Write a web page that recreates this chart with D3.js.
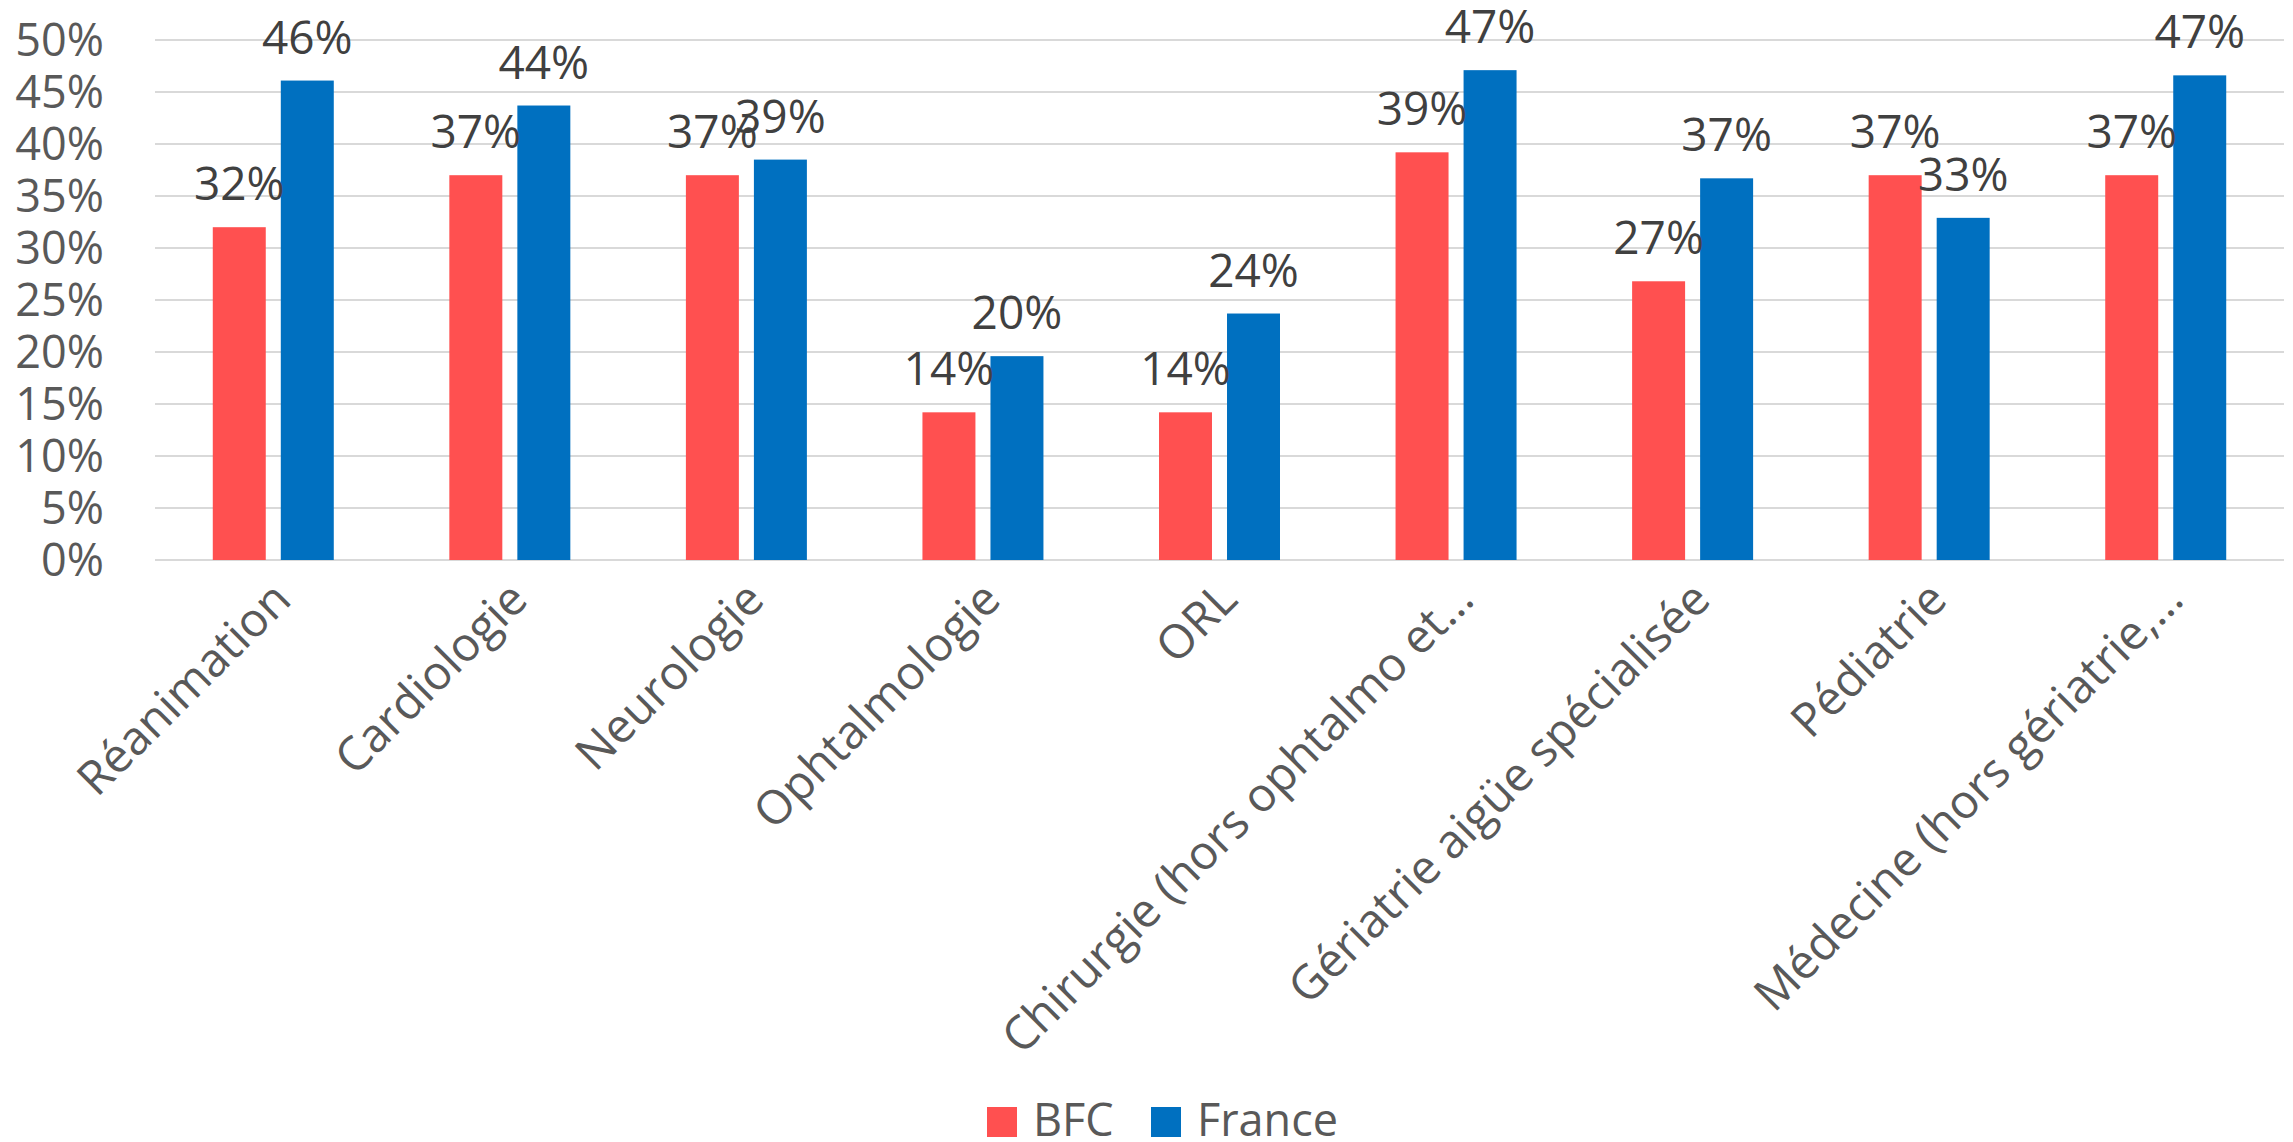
<!DOCTYPE html>
<html>
<head>
<meta charset="utf-8">
<script src="https://cdn.jsdelivr.net/npm/d3@7"></script>
<style>
  html, body { margin: 0; padding: 0; background: #fff; }
  svg { display: block; }
  text { font-family: "Open Sans", "Noto Sans", sans-serif; }
</style>
</head>
<body>
<svg id="chart" width="2293" height="1142"></svg>
<script>
const categories = ["Réanimation", "Cardiologie", "Neurologie", "Ophtalmologie", "ORL",
  "Chirurgie (hors ophtalmo et…", "Gériatrie aigüe spécialisée", "Pédiatrie", "Médecine (hors gériatrie,…"];
const seriesNames = ["BFC", "France"];
const bfcValues = [0.32, 0.37, 0.37, 0.142, 0.142, 0.392, 0.268, 0.37, 0.37];
const franceValues = [0.461, 0.437, 0.385, 0.196, 0.237, 0.471, 0.367, 0.329, 0.466];
const seriesColors = ["#FF5050", "#0070C0"];
const yTicks = [0, 0.05, 0.10, 0.15, 0.20, 0.25, 0.30, 0.35, 0.40, 0.45, 0.50];

const svg = d3.select("#chart");
const plotLeft = 155, plotRight = 2284, plotTop = 40, plotBottom = 560;

const x0 = d3.scaleBand().domain(categories).range([plotLeft, plotRight]).paddingInner(0.4885).paddingOuter(0.4885 / 2);
const x1 = d3.scaleBand().domain(seriesNames).range([0, x0.bandwidth()]).paddingInner(0.221).paddingOuter(0);
const y = d3.scaleLinear().domain([0, 0.5]).range([plotBottom, plotTop]);
const color = d3.scaleOrdinal().domain(seriesNames).range(seriesColors);
const fmt = d3.format(".0%");

// gridlines
svg.append("g").selectAll("line").data(yTicks).join("line")
  .attr("x1", plotLeft).attr("x2", plotRight)
  .attr("y1", d => y(d)).attr("y2", d => y(d))
  .attr("stroke", "#d9d9d9").attr("stroke-width", 2);

// y axis labels
const yAxis = d3.axisLeft(y).tickValues(yTicks).tickFormat(fmt).tickSize(0).tickPadding(0);
const yg = svg.append("g").attr("transform", `translate(104,0)`).call(yAxis);
yg.select(".domain").remove();
yg.selectAll("text").attr("font-size", 45).attr("fill", "#595959")
  .attr("font-family", "'Open Sans', sans-serif").attr("dy", "0.35em");

// data rows
const rows = categories.map((c, i) => ({ cat: c, vals: [
  { s: "BFC", v: bfcValues[i] }, { s: "France", v: franceValues[i] }] }));

const groups = svg.append("g").selectAll("g").data(rows).join("g")
  .attr("transform", d => `translate(${x0(d.cat)},0)`);

groups.selectAll("rect").data(d => d.vals).join("rect")
  .attr("x", d => x1(d.s)).attr("width", x1.bandwidth())
  .attr("y", d => y(d.v)).attr("height", d => y(0) - y(d.v))
  .attr("fill", d => color(d.s));

groups.selectAll("text.lbl").data(d => d.vals).join("text")
  .attr("class", "lbl")
  .attr("x", d => x1(d.s) + x1.bandwidth() / 2)
  .attr("y", d => y(d.v) - 27)
  .attr("text-anchor", "middle")
  .attr("font-size", 46).attr("fill", "#404040")
  .text(d => fmt(d.v));

// x axis category labels
const xAxis = d3.axisBottom(x0).tickSize(0).tickPadding(0);
const xg = svg.append("g").attr("transform", `translate(0,${plotBottom})`).call(xAxis);
xg.select(".domain").remove();
xg.selectAll("text")
  .attr("font-size", 47).attr("fill", "#595959")
  .attr("font-family", "'Open Sans', sans-serif")
  .attr("text-anchor", "end")
  .attr("y", 0).attr("dy", 0)
  .attr("transform", "translate(20,42) rotate(-45)");

// legend
const legend = svg.append("g");
const legendItems = [{ s: "BFC", x: 987 }, { s: "France", x: 1151 }];
legend.selectAll("rect").data(legendItems).join("rect")
  .attr("x", d => d.x).attr("y", 1107).attr("width", 30).attr("height", 30)
  .attr("fill", d => color(d.s));
legend.selectAll("text").data(legendItems).join("text")
  .attr("x", d => d.x + 46).attr("y", 1136)
  .attr("font-size", 45).attr("fill", "#595959")
  .text(d => d.s);
</script>
</body>
</html>
